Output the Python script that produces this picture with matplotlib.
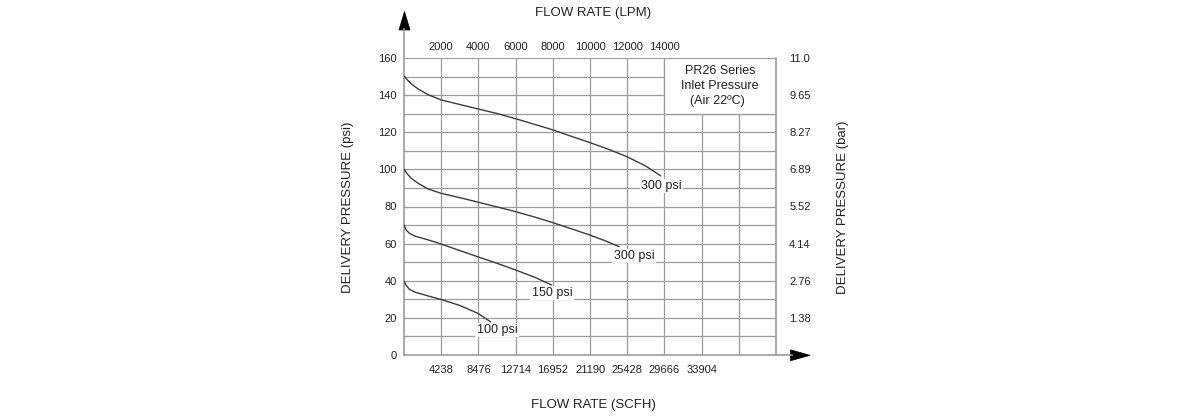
import matplotlib
matplotlib.use("Agg")
import matplotlib.pyplot as plt
from matplotlib.patches import Polygon, Rectangle

plt.rcParams['font.family'] = ['Liberation Sans', 'DejaVu Sans']

# Flow grid step (SCFH) and the matching LPM values on the top scale
scfh_step = 4238
scfh_ticks = [4238, 8476, 12714, 16952, 21190, 25428, 29666, 33904]
lpm_labels = ['2000', '4000', '6000', '8000', '10000', '12000', '14000']
psi_ticks = [0, 20, 40, 60, 80, 100, 120, 140, 160]
bar_labels = ['1.38', '2.76', '4.14', '5.52', '6.89', '8.27', '9.65', '11.0']

# Regulation curves: flow (in grid steps of 4238 SCFH) vs delivery pressure (psi)
steps_300_high = [0, 0.1, 0.2, 0.38, 0.65, 1, 1.45, 2, 2.5, 3, 3.5, 4, 4.5, 5, 5.5, 6, 6.5, 6.9]
psi_300_high = [150.3, 148, 146, 143.3, 140.2, 137.4, 135.2, 132.5, 130.1, 127.3, 124.3,
                121.3, 117.8, 114.4, 110.8, 106.8, 101.8, 96.5]

steps_300_low = [0, 0.1, 0.2, 0.38, 0.65, 1, 1.45, 2, 2.5, 3, 3.5, 4, 4.5, 5, 5.4, 5.78]
psi_300_low = [100, 97.3, 95.1, 92.5, 89.4, 87.1, 85, 82.3, 79.8, 77.2, 74.4, 71.3, 68,
               64.6, 61.6, 58.4]

steps_150 = [0, 0.06, 0.15, 0.29, 0.65, 1, 1.45, 2, 2.5, 3, 3.5, 3.97]
psi_150 = [70, 67.3, 65.5, 64.1, 62, 59.8, 56.6, 52.8, 49.4, 45.8, 42, 37.7]

steps_100 = [0, 0.06, 0.15, 0.29, 0.65, 1, 1.5, 2, 2.33]
psi_100 = [39.7, 37.5, 35.3, 33.9, 31.8, 29.9, 26.7, 22.3, 17.8]

curve_labels = ['300 psi', '300 psi', '150 psi', '100 psi']
label_steps = [6.93, 6.18, 3.98, 2.5]
label_psi = [91, 53.3, 33.4, 13.5]

W, H = 1191, 416
fig = plt.figure(figsize=(W / 100, H / 100), dpi=100)
ax = fig.add_axes([404 / W, 1 - 355 / H, 372 / W, 297 / H])

xmax = 10 * scfh_step
ax.set_xlim(0, xmax)
ax.set_ylim(0, 160)

grid_c = '#9c9c9c'
curve_c = '#3c3c3c'
text_c = '#222222'

# grid
for k in range(1, 10):
    ax.axvline(k * scfh_step, color=grid_c, lw=0.9, zorder=1)
for p in range(10, 161, 10):
    ax.axhline(p, color=grid_c, lw=0.9, zorder=1)

# legend panel in the top-right corner
ax.add_patch(Rectangle((7 * scfh_step, 130), 3 * scfh_step, 30, facecolor='white',
                       edgecolor='none', zorder=2))
ax.plot([7 * scfh_step, 7 * scfh_step], [130, 160], color=grid_c, lw=0.9, zorder=2.1)
ax.plot([7 * scfh_step, xmax], [130, 130], color=grid_c, lw=0.9, zorder=2.1)
ax.plot([7 * scfh_step, xmax], [160, 160], color=grid_c, lw=0.9, zorder=2.1)
bx = 8.5 * scfh_step
ax.text(bx, 152.8, 'PR26 Series', ha='center', va='center', fontsize=9, color=text_c, zorder=3)
ax.text(bx, 144.7, 'Inlet Pressure', ha='center', va='center', fontsize=9, color=text_c, zorder=3)
ax.text(bx - 0.08 * scfh_step, 136.6, '(Air 22ºC)', ha='center', va='center', fontsize=9,
        color=text_c, zorder=3)

# curves
for st, py in [(steps_300_high, psi_300_high), (steps_300_low, psi_300_low),
               (steps_150, psi_150), (steps_100, psi_100)]:
    ax.plot([s * scfh_step for s in st], py, color=curve_c, lw=1.0, zorder=4,
            solid_capstyle='round', solid_joinstyle='round')

for txt, ls, lp in zip(curve_labels, label_steps, label_psi):
    ax.text(ls * scfh_step, lp, txt, ha='center', va='center', fontsize=9, color=text_c,
            zorder=5, bbox=dict(facecolor='white', edgecolor='none', pad=1.0))

# spines
for s in ['left', 'bottom', 'right']:
    ax.spines[s].set_color(grid_c)
    ax.spines[s].set_linewidth(1.2)
ax.spines['top'].set_visible(False)

# left psi ticks
ax.set_yticks(psi_ticks)
ax.set_yticklabels([str(v) for v in psi_ticks])
ax.tick_params(axis='y', length=0, pad=5, labelsize=8, labelcolor=text_c)

# bottom SCFH ticks
ax.set_xticks(scfh_ticks)
ax.set_xticklabels([str(v) for v in scfh_ticks])
ax.tick_params(axis='x', length=0, pad=7, labelsize=8, labelcolor=text_c)

# top LPM ticks
top = ax.secondary_xaxis('top')
top.set_xticks(scfh_ticks[:len(lpm_labels)])
top.set_xticklabels(lpm_labels)
top.tick_params(length=0, pad=4, labelsize=8, labelcolor=text_c)
top.spines['top'].set_visible(False)

# right bar ticks
right = ax.secondary_yaxis('right')
right.set_yticks(psi_ticks[1:])
right.set_yticklabels(bar_labels)
right.tick_params(length=0, pad=9.5, labelsize=8, labelcolor=text_c)
right.spines['right'].set_visible(False)

# axis titles
fig.text(593 / W, 1 - 13 / H, 'FLOW RATE (LPM)', ha='center', va='center', fontsize=9.5, color=text_c)
fig.text(593 / W, 1 - 405 / H, 'FLOW RATE (SCFH)', ha='center', va='center', fontsize=9.5, color=text_c)
fig.text(348 / W, 1 - 207 / H, 'DELIVERY PRESSURE (psi)', ha='center', va='center', rotation=90,
         fontsize=9.5, color=text_c)
fig.text(843 / W, 1 - 207 / H, 'DELIVERY PRESSURE (bar)', ha='center', va='center', rotation=90,
         fontsize=9.5, color=text_c)

# axis arrows
def fxy(x, y):
    return (x / W, 1 - y / H)

fig.add_artist(plt.Line2D([404 / W, 404 / W], [1 - 58 / H, 1 - 29 / H], color=grid_c, lw=1.2))
fig.add_artist(Polygon([fxy(399, 30), fxy(410, 30), fxy(404.5, 11.5)], closed=True,
                       facecolor='black', edgecolor='black', lw=0.5))
fig.add_artist(plt.Line2D([776 / W, 792 / W], [1 - 355.3 / H, 1 - 355.3 / H], color=grid_c, lw=1.2))
fig.add_artist(Polygon([fxy(790.5, 349.8), fxy(790.5, 360.8), fxy(810, 355.3)], closed=True,
                       facecolor='black', edgecolor='black', lw=0.5))

fig.savefig('out.png', dpi=100, facecolor='white')
